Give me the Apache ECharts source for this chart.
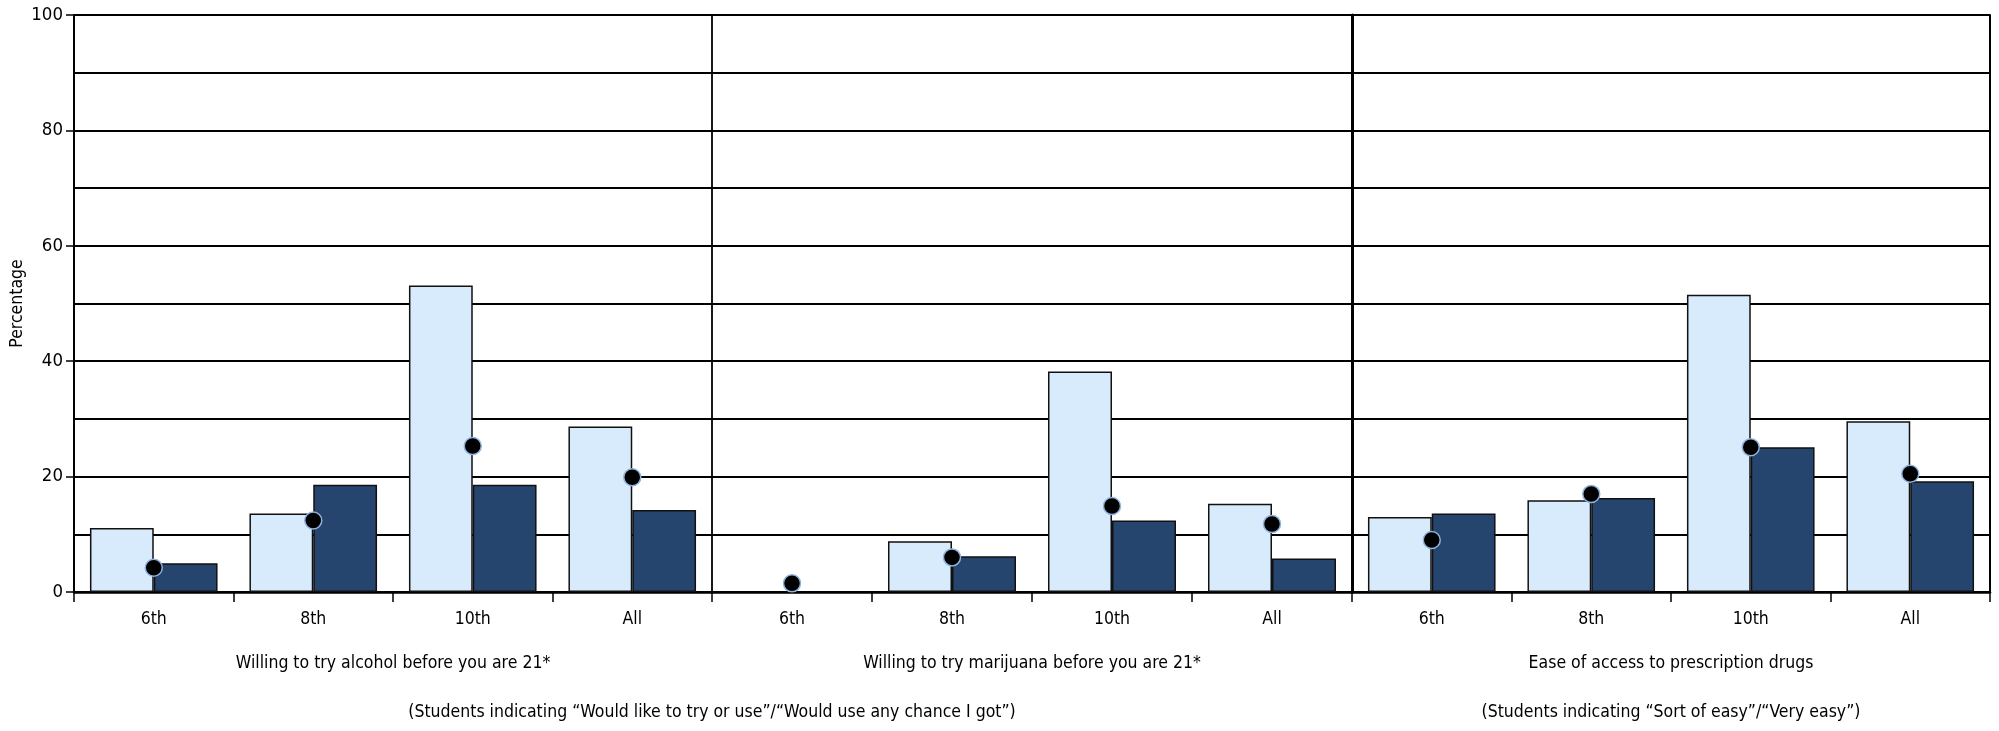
<!DOCTYPE html>
<html>
<head>
<meta charset="utf-8">
<script src="https://cdn.jsdelivr.net/npm/echarts@6/dist/echarts.min.js"></script>
<style>
html,body{margin:0;padding:0;background:#fff;}
#chart{width:1999px;height:731px;}
</style>
</head>
<body>
<div id="chart"></div>
<script>
const categories = ['6th', '8th', '10th', 'All'];
const panelTitles = ['Willing to try alcohol before you are 21*', 'Willing to try marijuana before you are 21*', 'Ease of access to prescription drugs'];
const subtitles = ['(Students indicating \u201cWould like to try or use\u201d/\u201cWould use any chance I got\u201d)', '(Students indicating \u201cSort of easy\u201d/\u201cVery easy\u201d)'];

const alcoholLight = [11.1, 13.6, 53.1, 28.7];
const alcoholDark = [5.0, 18.6, 18.6, 14.2];
const alcoholDot = [4.2, 12.4, 25.3, 19.9];

const marijuanaLight = ['-', 8.8, 38.2, 15.3];
const marijuanaDark = ['-', 6.2, 12.4, 5.8];
const marijuanaDot = [1.5, 6.0, 14.9, 11.8];

const rxLight = [13.0, 15.9, 51.5, 29.6];
const rxDark = [13.6, 16.3, 25.1, 19.2];
const rxDot = [9.0, 17.0, 25.1, 20.5];

const yMin = 0, yMax = 100, yInterval = 20;

const FONT = '"Liberation Sans Narrow", "DejaVu Sans Condensed", "Liberation Sans", sans-serif';
const LIGHT = '#d8ebfc';
const DARK = '#26456e';

const panels = [
  {light: alcoholLight, dark: alcoholDark, dot: alcoholDot},
  {light: marijuanaLight, dark: marijuanaDark, dot: marijuanaDot},
  {light: rxLight, dark: rxDark, dot: rxDot}
];

const edges = [74, 712, 1352, 1990];
const gridTop = 15, gridBottom = 139;

const grids = [], xAxes = [], yAxes = [], series = [];
panels.forEach((p, i) => {
  grids.push({left: edges[i], width: edges[i + 1] - edges[i], top: gridTop, bottom: gridBottom, containLabel: false});
  xAxes.push({
    type: 'category', gridIndex: i, data: categories,
    axisLine: {show: true, lineStyle: {color: '#000', width: 2.5}},
    axisTick: {show: true, length: 10, lineStyle: {color: '#000', width: 1.5}},
    axisLabel: {color: '#000', fontSize: 17.5, fontFamily: FONT, margin: 18},
    name: panelTitles[i], nameLocation: 'middle', nameGap: 62,
    nameTextStyle: {color: '#000', fontSize: 17.5, fontFamily: FONT},
    splitLine: {show: false}, z: 5
  });
  yAxes.push({
    type: 'value', gridIndex: i, min: yMin, max: yMax, interval: yInterval,
    axisLine: {show: true, lineStyle: {color: '#000', width: i === 2 ? 3 : (i === 0 ? 2 : 1.8)}},
    axisTick: {show: i === 0, length: 8, lineStyle: {color: '#000', width: 1.5}},
    axisLabel: {show: i === 0, color: '#000', fontSize: 18.5, fontFamily: FONT, margin: 11},
    splitLine: {show: true, lineStyle: {color: '#000', width: 1.8}},
    minorTick: {show: false, splitNumber: 2},
    minorSplitLine: {show: true, lineStyle: {color: '#000', width: 1.8}},
    name: i === 0 ? 'Percentage' : '', nameLocation: 'middle', nameGap: 48, nameRotate: 90,
    nameTextStyle: {color: '#000', fontSize: 17.5, fontFamily: FONT}, z: 4
  });
  series.push({
    type: 'bar', xAxisIndex: i, yAxisIndex: i, data: p.light,
    barGap: '0%', barCategoryGap: '20%',
    itemStyle: {color: LIGHT, borderColor: '#111', borderWidth: 1.5}, z: 6
  });
  series.push({
    type: 'bar', xAxisIndex: i, yAxisIndex: i, data: p.dark,
    barGap: '0%', barCategoryGap: '20%',
    itemStyle: {color: DARK, borderColor: '#111', borderWidth: 1.5}, z: 6
  });
  series.push({
    type: 'scatter', xAxisIndex: i, yAxisIndex: i, data: p.dot,
    symbol: 'circle', symbolSize: 17,
    itemStyle: {color: '#000', borderColor: '#8fb3dc', borderWidth: 1.5, opacity: 1}, z: 8
  });
});
// right border of last panel
yAxes.push({
  type: 'value', gridIndex: 2, min: yMin, max: yMax, interval: yInterval, position: 'right',
  axisLine: {show: true, lineStyle: {color: '#000', width: 2}},
  axisTick: {show: false}, axisLabel: {show: false}, splitLine: {show: false}
});

const chart = echarts.init(document.getElementById('chart'), null, {renderer: 'canvas'});
chart.setOption({
  animation: false,
  backgroundColor: '#fff',
  grid: grids,
  xAxis: xAxes,
  yAxis: yAxes,
  title: [
    {text: subtitles[0], left: edges[1], top: 703, textAlign: 'center', padding: 0,
     textStyle: {color: '#000', fontSize: 17.5, fontWeight: 'normal', fontFamily: FONT}},
    {text: subtitles[1], left: (edges[2] + edges[3]) / 2, top: 703, textAlign: 'center', padding: 0,
     textStyle: {color: '#000', fontSize: 17.5, fontWeight: 'normal', fontFamily: FONT}}
  ],
  series: series
});
</script>
</body>
</html>
